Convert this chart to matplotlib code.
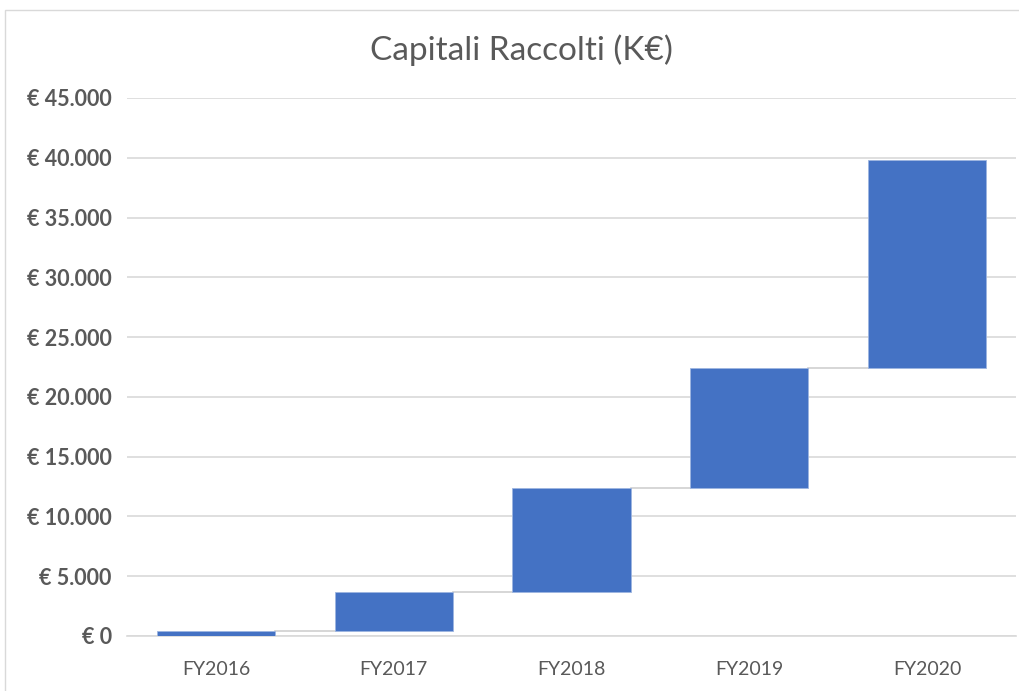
import matplotlib.pyplot as plt
import numpy as np
from matplotlib.patches import Rectangle

# dati (K€)
anni = ['FY2016', 'FY2017', 'FY2018', 'FY2019', 'FY2020']
incrementi = [400, 3300, 8700, 10050, 17350]
yticks = [0, 5000, 10000, 15000, 20000, 25000, 30000, 35000, 40000, 45000]

plt.rcParams['font.family'] = ['Lato', 'DejaVu Sans']

cumulato = np.cumsum(incrementi)
base = cumulato - np.array(incrementi)

fig = plt.figure(figsize=(10.2, 6.91), dpi=100)
ax = fig.add_axes([127 / 1020, 1 - 636 / 691, 889 / 1020, 538 / 691])

# bordo del grafico
fig.patches.append(Rectangle((5 / 1020, -0.1), 1.2, 1 - 10 / 691 + 0.1,
                             transform=fig.transFigure, fill=False,
                             edgecolor='#D9D9D9', linewidth=1))

x = np.arange(len(anni))
bar_width = 0.665
ax.bar(x, incrementi, bar_width, bottom=base, color='#4472C4',
       edgecolor='#9DB5E0', linewidth=0.6, zorder=3)

# linee di collegamento
for i in range(len(anni) - 1):
    ax.plot([x[i] + bar_width / 2, x[i + 1] - bar_width / 2],
            [cumulato[i], cumulato[i]], color='#D0D0D0', linewidth=1.2, zorder=2)

ax.set_xlim(-0.5, len(anni) - 0.5)
ax.set_ylim(0, 45000)
ax.set_yticks(yticks)
ax.set_yticklabels(['€ 0' if v == 0 else '€ ' + f'{v:,}'.replace(',', '.') for v in yticks],
                   fontweight='bold')
ax.set_xticks(x)
ax.set_xticklabels(anni)
ax.tick_params(axis='y', length=0, pad=11, labelsize=15.5, labelcolor='#595959')
ax.tick_params(axis='x', length=0, pad=18, labelsize=14, labelcolor='#595959')

ax.grid(axis='y', color='#D9D9D9', linewidth=1.2, zorder=0)
for s in ['top', 'right', 'left']:
    ax.spines[s].set_visible(False)
ax.spines['bottom'].set_color('#D9D9D9')
ax.spines['bottom'].set_linewidth(1.2)

fig.text(521 / 1020, 1 - 50 / 691, 'Capitali Raccolti (K€)', ha='center', va='center',
         fontsize=24, color='#595959')

plt.savefig('out.png', dpi=100)
